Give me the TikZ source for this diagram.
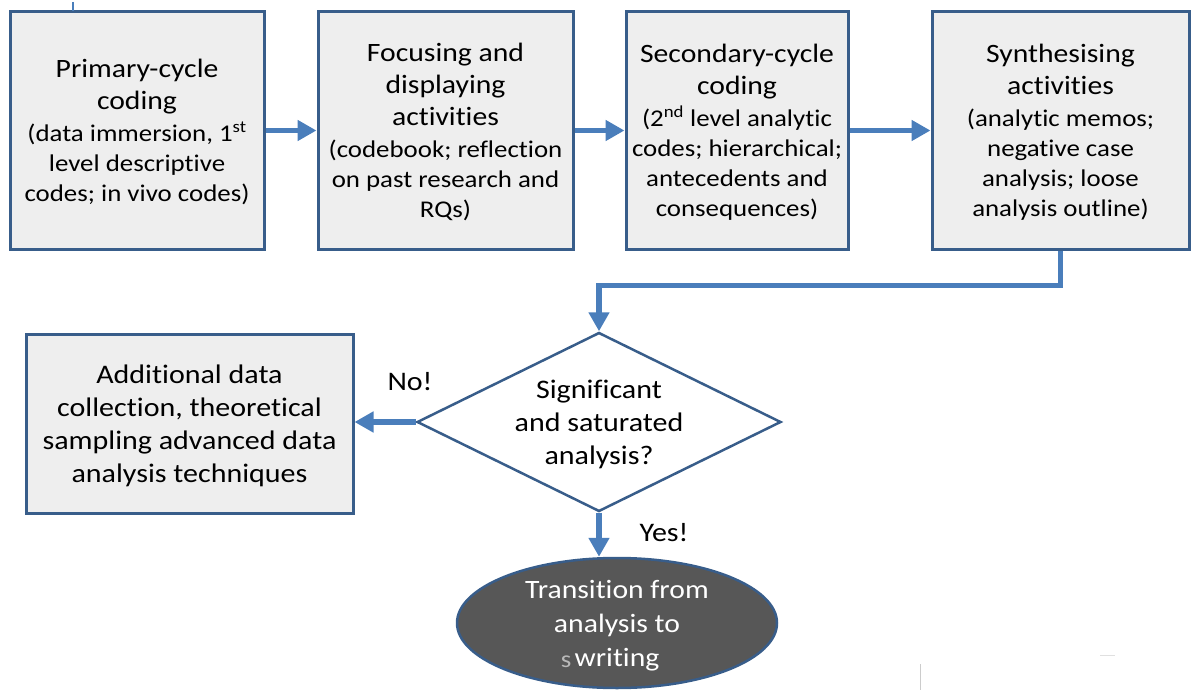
\documentclass[tikz,border=0pt]{standalone}
\usepackage{fontspec}
\setmainfont{Carlito}[Ligatures=NoCommon, FakeStretch=1.12]
\usetikzlibrary{shapes.geometric,arrows.meta}

\definecolor{edgeblue}{HTML}{385D8A}
\definecolor{flowblue}{HTML}{4A7EBB}
\definecolor{boxfill}{HTML}{EEEEEE}
\definecolor{darkfill}{HTML}{575757}

\newcommand\boxtitle{\fontsize{26.5}{32}\selectfont}
\newcommand\boxnote{\fontsize{24}{30}\selectfont}
\newcommand\bigtext{\fontsize{26.8}{33}\selectfont}

\begin{document}
\begin{tikzpicture}[x=1pt,y=-1pt,
  stage/.style={draw=edgeblue, line width=3pt, fill=boxfill, align=center,
    inner sep=0pt, minimum height=237pt, text=black, font=\boxnote,
    text depth=-3pt},
  decision/.style={diamond, draw=edgeblue, line width=2.5pt, fill=white,
    aspect=2, inner sep=0pt, minimum width=364pt, minimum height=179pt,
    align=center, font=\bigtext, text depth=-10pt},
  terminal/.style={ellipse, draw=edgeblue, line width=2.5pt, fill=darkfill,
    text=white, inner sep=0pt, minimum width=320pt, minimum height=130pt,
    align=center, font=\fontsize{26.5}{34}\selectfont, text depth=-6pt},
  flow/.style={draw=flowblue, line width=5.5pt,
    -{Triangle[length=19pt,width=20pt]}},
  tag/.style={font=\bigtext, inner sep=0pt},
]
\useasboundingbox (0,0) rectangle (1191,690);

% the four analysis stages along the top
\node[stage, minimum width=254pt] (prim) at (137,130.5)
  {\boxtitle Primary-cycle\\[2pt]\boxtitle coding\\[2pt]
   (data immersion, 1\textsuperscript{st}\\level descriptive\\codes; in vivo codes)};
\node[stage, minimum width=255pt] (focus) at (445.5,130.5)
  {\boxtitle Focusing and\\[2pt]\boxtitle displaying\\[2pt]\boxtitle activities\\[2pt]
   (codebook; reflection\\on past research and\\RQs)};
\node[stage, minimum width=222pt] (second) at (737,130.5)
  {\boxtitle Secondary-cycle\\[2pt]\boxtitle coding\\[2pt]
   (2\textsuperscript{nd} level analytic\\codes; hierarchical;\\antecedents and\\consequences)};
\node[stage, minimum width=257pt] (synth) at (1060.5,130.5)
  {\boxtitle Synthesising\\[2pt]\boxtitle activities\\[2pt]
   (analytic memos;\\negative case\\analysis; loose\\analysis outline)};

% decision and its two outcomes
\node[decision] (check) at (599,422) {Significant\\and saturated\\analysis?};
\node[stage, minimum width=327pt, minimum height=179pt, font=\bigtext,
  text depth=-6pt] (extra) at (189.5,423.5)
  {Additional data\\collection, theoretical\\sampling advanced data\\analysis techniques};
\node[terminal] (trans) at (617,623) {Transition from\\analysis to\\writing};
\node[font=\fontsize{24}{28}\selectfont, text=gray!55, inner sep=0pt] (ghost) at (566,662) {s};

\node[tag] (no) at (410,382) {No!};
\node[tag] (yes) at (664,533) {Yes!};

% connectors
\draw[flow] (prim) -- (focus);
\draw[flow] (focus) -- (second);
\draw[flow] (second) -- (synth);
\draw[flow] (synth.south) -- ++(0,35) -| (check.north);
\draw[flow] (check.west) -- (check.west -| extra.east);
\draw[flow] (check.south) -- (check.south |- trans.north);

% small stray marks
\draw[flowblue, line width=2pt] (73,2) -- (73,11);
\draw[black!20, line width=1pt] (920,664) -- (920,690);
\draw[black!12, line width=1pt] (1100,655) -- (1115,655);
\end{tikzpicture}
\end{document}
